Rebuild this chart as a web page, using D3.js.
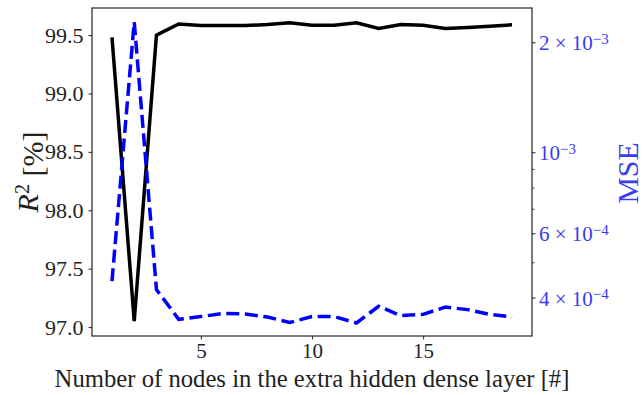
<!DOCTYPE html>
<html>
<head>
<meta charset="utf-8">
<script src="https://cdn.jsdelivr.net/npm/d3@7"></script>
<style>
  body { margin: 0; background: #fff; }
  text { font-family: "Liberation Serif", "DejaVu Serif", serif; }
</style>
</head>
<body>
<svg id="chart" width="643" height="395"></svg>
<script>
// number of nodes in the extra layer, R2 in percent and MSE (log axis)
var nodes = [1, 2, 3, 4, 5, 6, 7, 8, 9, 10, 11, 12, 13, 14, 15, 16, 17, 18, 19];
var r2 = [99.48, 97.05, 99.50, 99.595, 99.583, 99.582, 99.582, 99.59, 99.605, 99.585,
          99.585, 99.605, 99.557, 99.59, 99.585, 99.557, 99.565, 99.575, 99.588];
var mse = [4.45e-4, 2.28e-3, 4.22e-4, 3.50e-4, 3.56e-4, 3.63e-4, 3.62e-4, 3.55e-4, 3.43e-4, 3.56e-4,
           3.56e-4, 3.42e-4, 3.80e-4, 3.58e-4, 3.61e-4, 3.78e-4, 3.72e-4, 3.61e-4, 3.55e-4];
var xTicks = [5, 10, 15];
var r2Ticks = [97.0, 97.5, 98.0, 98.5, 99.0, 99.5];
var mseTicks = [4e-4, 6e-4, 1e-3, 2e-3];
var mseTickLabels = [["4 \u00d7 10", "\u22124"], ["6 \u00d7 10", "\u22124"], ["10", "\u22123"], ["2 \u00d7 10", "\u22123"]];
var mseMinor = [5e-4, 7e-4, 8e-4, 9e-4];

var svg = d3.select("#chart"),
    margin = {top: 8, right: 111, bottom: 59, left: 92},
    width = +svg.attr("width") - margin.left - margin.right,
    height = +svg.attr("height") - margin.top - margin.bottom,
    g = svg.append("g").attr("transform", "translate(" + margin.left + "," + margin.top + ")");

var blue = "#0000ff", tickBlue = "#3b3bf0", spine = "#333";

var x = d3.scaleLinear().domain([0.1, 19.9]).range([0, width]);
var y = d3.scaleLinear().domain([96.923, 99.732]).range([height, 0]);
var y2 = d3.scaleLog().domain([3.15e-4, 2.49e-3]).range([height, 0]);

var lineR2 = d3.line()
    .x(function(d, i) { return x(nodes[i]); })
    .y(function(d) { return y(d); });

var lineMse = d3.line()
    .x(function(d, i) { return x(nodes[i]); })
    .y(function(d) { return y2(d); });

g.append("path")
    .datum(r2)
    .attr("d", lineR2)
    .attr("fill", "none")
    .attr("stroke", "#000")
    .attr("stroke-width", 3.5)
    .attr("stroke-linejoin", "miter");

g.append("path")
    .datum(mse)
    .attr("d", lineMse)
    .attr("fill", "none")
    .attr("stroke", blue)
    .attr("stroke-width", 3.5)
    .attr("stroke-dasharray", "13,5.6");

// frame
g.append("rect")
    .attr("width", width)
    .attr("height", height)
    .attr("fill", "none")
    .attr("stroke", spine)
    .attr("stroke-width", 1.3);

// bottom axis
var xAxis = g.append("g")
    .attr("transform", "translate(0," + height + ")")
    .call(d3.axisBottom(x).tickValues(xTicks).tickSize(3.5).tickPadding(4).tickFormat(d3.format("d")));
xAxis.select(".domain").remove();
xAxis.selectAll("line").attr("stroke", spine).attr("stroke-width", 1.1);
xAxis.selectAll("text").attr("font-size", 21).attr("fill", "#222")
    .attr("font-family", "Liberation Serif");

// left axis
var yAxis = g.append("g")
    .call(d3.axisLeft(y).tickValues(r2Ticks).tickSize(3.5).tickPadding(5).tickFormat(d3.format(".1f")));
yAxis.select(".domain").remove();
yAxis.selectAll("line").attr("stroke", spine).attr("stroke-width", 1.1);
yAxis.selectAll("text").attr("font-size", 22).attr("fill", "#222")
    .attr("font-family", "Liberation Serif");

// right axis (log)
var rAxis = g.append("g").attr("transform", "translate(" + width + ",0)");
rAxis.selectAll(".minor")
    .data(mseMinor)
    .enter().append("line")
      .attr("x1", 0).attr("x2", 2.5)
      .attr("y1", function(d) { return y2(d); })
      .attr("y2", function(d) { return y2(d); })
      .attr("stroke", spine).attr("stroke-width", 0.9);
var rt = rAxis.selectAll(".major")
    .data(mseTicks)
    .enter().append("g")
      .attr("transform", function(d) { return "translate(0," + y2(d) + ")"; });
rt.append("line").attr("x2", 3.5).attr("stroke", spine).attr("stroke-width", 1.1);
var rtText = rt.append("text")
    .attr("x", 7)
    .attr("dy", "0.36em")
    .attr("font-size", 21)
    .attr("fill", tickBlue);
rtText.append("tspan").text(function(d, i) { return mseTickLabels[i][0]; });
rtText.append("tspan")
    .attr("dy", "-0.45em")
    .attr("font-size", 15)
    .text(function(d, i) { return mseTickLabels[i][1]; });

// axis titles
svg.append("text")
    .attr("x", margin.left + width / 2)
    .attr("y", 387)
    .attr("text-anchor", "middle")
    .attr("font-size", 24.7)
    .attr("fill", "#222")
    .text("Number of nodes in the extra hidden dense layer [#]");

var yl = svg.append("text")
    .attr("transform", "translate(38," + 172 + ") rotate(-90)")
    .attr("text-anchor", "middle")
    .attr("font-size", 30)
    .attr("fill", "#222");
yl.append("tspan").attr("font-style", "italic").text("R");
yl.append("tspan").attr("dy", "-0.45em").attr("font-size", 20).text("2");
yl.append("tspan").attr("dy", "0.45em").text(" [%]");

svg.append("text")
    .attr("transform", "translate(638," + 173 + ") rotate(-90)")
    .attr("text-anchor", "middle")
    .attr("font-size", 30)
    .attr("fill", tickBlue)
    .text("MSE");
</script>
</body>
</html>
